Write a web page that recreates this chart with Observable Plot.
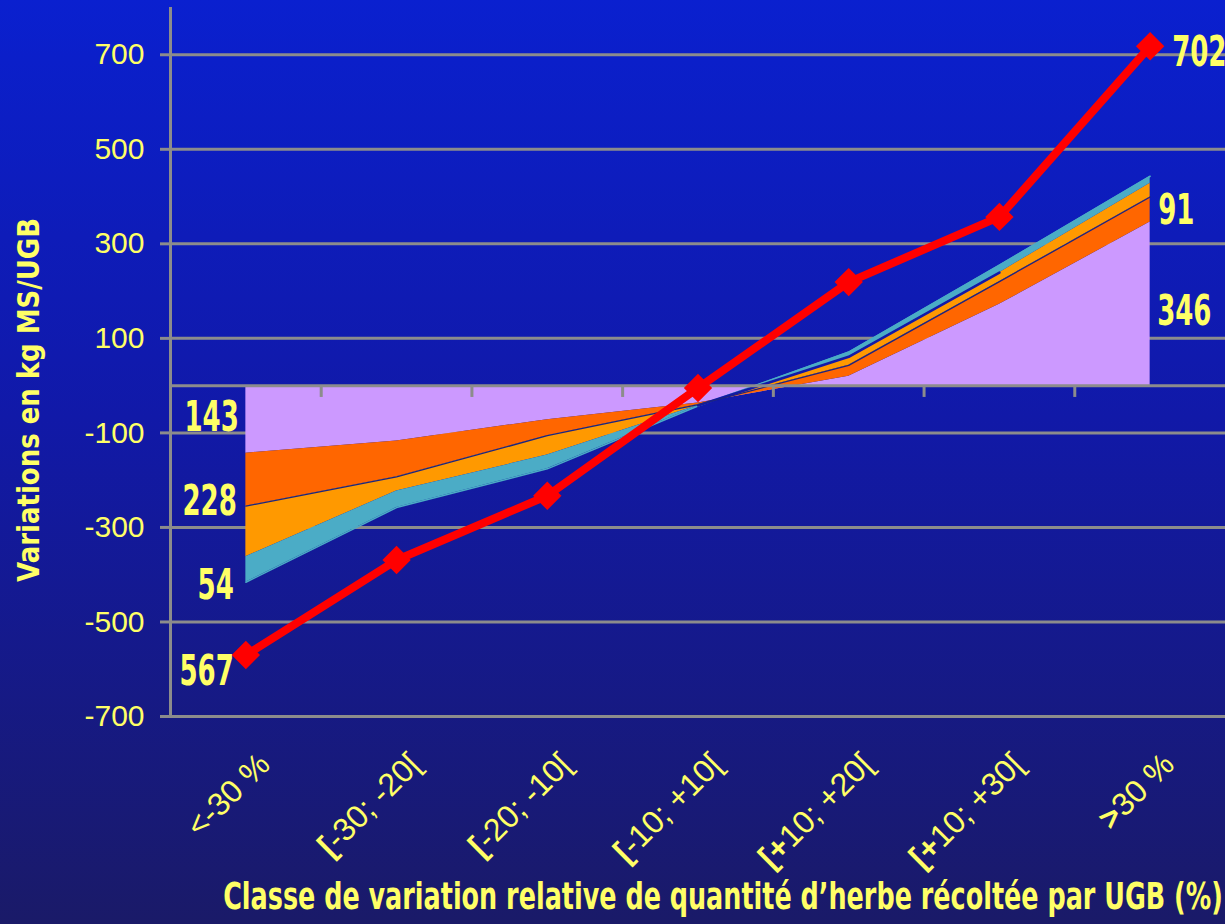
<!DOCTYPE html>
<html>
<head>
<meta charset="utf-8">
<script src="https://cdn.jsdelivr.net/npm/d3@7"></script>
<script src="https://cdn.jsdelivr.net/npm/@observablehq/plot@0.6"></script>
<style>
  html, body { margin: 0; padding: 0; width: 1225px; height: 924px; overflow: hidden; }
  body { background: linear-gradient(to bottom, #0a20cf 0%, #1119a8 45%, #1a1a68 100%); }
  svg { display: block; }
</style>
</head>
<body>
<script>
const categories = ["<-30 %", "[-30; -20[", "[-20; -10[", "[-10; +10[", "[+10; +20[", "[+10; +30[", ">30 %"];
const lavender  = [-143, -117, -72, -37, 20, 172, 346];
const orangeRed = [-112, -76, -34, -3, 23, 48, 53];
const orange    = [-107, -30, -41, -2, 18, 19, 29];
const teal      = [-54, -35, -29, -1, 10, 16, 15];
const total     = [-570, -369, -233, -5, 219, 357, 718];
const yTicks    = [-700, -500, -300, -100, 100, 300, 500, 700];
const leftLabels  = ["143", "228", "54", "567"];
const rightLabels = ["702", "91", "346"];
const yTitle = "Variations en kg MS/UGB";
const xTitle = "Classe de variation relative de quantité d’herbe récoltée par UGB (%)";

const idx = categories.map((_, i) => i);
const c1 = lavender.slice();
const c2 = c1.map((v, i) => v + orangeRed[i]);
const c3 = c2.map((v, i) => v + orange[i]);
const c4 = c3.map((v, i) => v + teal[i]);
const boundaries = idx.slice(0, -1).map(i => i + 0.5);
const last = idx.length - 1;

const gray = "#8c8c8c";
const yellow = "#ffff66";
const bold = "'DejaVu Sans', 'Liberation Sans', sans-serif";
const regular = "'Liberation Sans', Arial, sans-serif";
const tickLen = -25;

function valueLabel(text, xi, yv, dx, dy, anchor) {
  return Plot.text([text], {x: () => xi, y: () => yv, text: d => d, dx, dy, textAnchor: anchor,
    fill: yellow, fontSize: 42, fontWeight: "bold", fontFamily: bold});
}

const chart = Plot.plot({
  width: 1225,
  height: 924,
  marginLeft: 170,
  marginRight: 0,
  marginTop: 7,
  marginBottom: 208,
  style: {background: "transparent", fontFamily: regular, overflow: "visible"},
  x: {type: "linear", domain: [-0.5, 6.5], axis: null},
  y: {domain: [-700, 800], axis: null},
  marks: [
    Plot.ruleY(yTicks, {stroke: gray, strokeWidth: 3}),
    Plot.axisY(yTicks, {tickSize: 10, tickPadding: 16, stroke: gray, strokeWidth: 3, fill: yellow, fontSize: 30, fontFamily: regular, tickFormat: d => String(d), label: null}),
    Plot.areaY(idx, {x: i => i, y1: 0, y2: i => c1[i], fill: "#cc99ff"}),
    Plot.areaY(idx, {x: i => i, y1: i => c1[i], y2: i => c2[i], fill: "#ff6600"}),
    Plot.areaY(idx, {x: i => i, y1: i => c2[i], y2: i => c3[i], fill: "#ff9900"}),
    Plot.areaY(idx, {x: i => i, y1: i => c3[i], y2: i => c4[i], fill: "#4bacc6"}),
    Plot.lineY(idx, {x: i => i, y: i => c4[i], stroke: "#4bacc6", strokeWidth: 1.5}),
    Plot.lineY(idx.filter(i => i >= 3 && i <= 5), {x: i => i, y: i => c3[i], stroke: "#1219a8", strokeWidth: 2.5}),
    Plot.lineY(idx, {x: i => i, y: i => c2[i], stroke: "#1c2580", strokeWidth: 1.3}),
    Plot.ruleY([0], {stroke: gray, strokeWidth: 3}),
    Plot.ruleX(boundaries, {y1: 0, y2: tickLen, stroke: gray, strokeWidth: 3}),
    Plot.ruleX([-0.5], {stroke: gray, strokeWidth: 3}),
    Plot.lineY(idx, {x: i => i, y: i => total[i], stroke: "#ff0000", strokeWidth: 8}),
    Plot.dot(idx, {x: i => i, y: i => total[i], symbol: "diamond2", r: 11.5, fill: "#ff0000", stroke: "#ff0000", strokeWidth: 2}),
    valueLabel(leftLabels[0], 0, c1[0] / 2, -7, -2, "end"),
    valueLabel(leftLabels[1], 0, (c1[0] + c3[0]) / 2, -9, -3, "end"),
    valueLabel(leftLabels[2], 0, c4[0], -12, 3, "end"),
    valueLabel(leftLabels[3], 0, total[0], -12, 16, "end"),
    valueLabel(rightLabels[0], last, total[last], 22, 6, "start"),
    valueLabel(rightLabels[1], last, (c1[last] + c4[last]) / 2, 8, 11, "start"),
    valueLabel(rightLabels[2], last, c1[last] / 2, 7, 8, "start"),
    Plot.text(idx, {x: i => i, frameAnchor: "bottom", text: i => categories[i], dx: 26, dy: 50, rotate: -45, textAnchor: "end", lineAnchor: "bottom", fill: yellow, fontSize: 32, fontFamily: regular}),
    Plot.text([yTitle], {frameAnchor: "left", dx: -141, dy: 38, rotate: -90, textAnchor: "middle", lineAnchor: "middle", fill: yellow, fontSize: 31, fontWeight: "bold", fontFamily: bold}),
    Plot.text([xTitle], {frameAnchor: "bottom", dx: 25, dy: 181, textAnchor: "middle", lineAnchor: "middle", fill: yellow, fontSize: 37, fontWeight: "bold", fontFamily: bold})
  ]
});
document.body.appendChild(chart);

// condense the bold texts to mimic a narrow bold face (horizontal scale about each text's anchor)
chart.querySelectorAll('g[font-weight="bold"] text').forEach(t => {
  const natural = t.getComputedTextLength();
  let f = 0.62;
  if (t.textContent === xTitle) f = 1000 / natural;
  if (t.textContent === yTitle) f = 364 / natural;
  const tr = t.getAttribute("transform") || "";
  t.setAttribute("transform", `${tr} scale(${f},1)`);
});

// the leading bracket / sign of the category labels is bold in the original
const catSet = new Set(categories);
chart.querySelectorAll("text").forEach(t => {
  const s = t.textContent;
  if (!catSet.has(s)) return;
  const m = s.match(/^[\[+>]+/);
  if (!m) return;
  const ns = "http://www.w3.org/2000/svg";
  t.textContent = "";
  const b = document.createElementNS(ns, "tspan");
  b.setAttribute("font-weight", "bold");
  b.textContent = m[0];
  const r = document.createElementNS(ns, "tspan");
  r.textContent = s.slice(m[0].length);
  t.appendChild(b);
  t.appendChild(r);
});
</script>
</body>
</html>
